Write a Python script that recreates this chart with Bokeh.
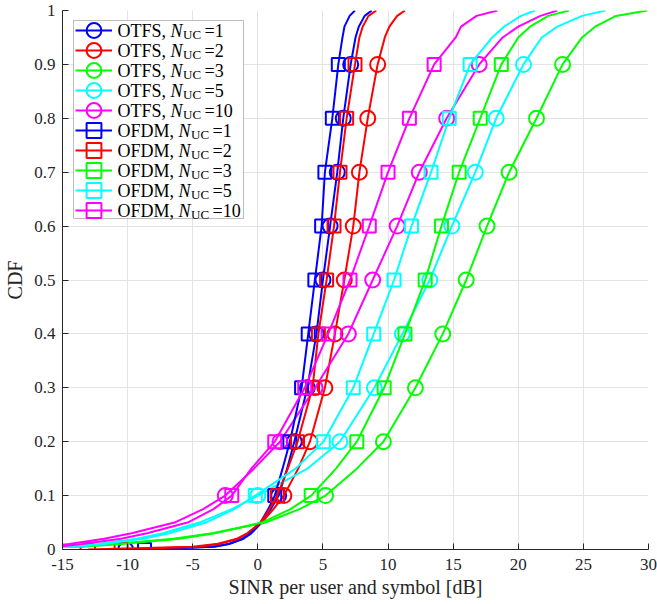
from bokeh.plotting import figure
from bokeh.models import (Legend, LegendItem, Label, FixedTicker, BoxAnnotation,
                          CustomJSTickFormatter, Range1d, ColumnDataSource)
from bokeh.embed import file_html
from bokeh.resources import INLINE

# ---------------- data ----------------
cdf_levels = [0.0, 0.005, 0.01, 0.02, 0.03, 0.05, 0.075, 0.1, 0.15, 0.2,
              0.3, 0.4, 0.5, 0.6, 0.7, 0.8, 0.9, 0.95, 0.97, 0.99, 1.0]
marker_levels = [0.0, 0.1, 0.2, 0.3, 0.4, 0.5, 0.6, 0.7, 0.8, 0.9]

schemes = ["OTFS"] * 5 + ["OFDM"] * 5
n_uc = [1, 2, 3, 5, 10, 1, 2, 3, 5, 10]
colors = ["#0000ff", "#ff0000", "#00ff00", "#00ffff", "#ff00ff"] * 2
markers = ["circle"] * 5 + ["square"] * 5

# SINR [dB] at each CDF level
otfs_1 = [-10.15, -3.3, -2.2, -1.1, -0.5, 0.3, 1.0, 1.6, 2.25, 2.8,
          3.8, 4.5, 5.0, 5.55, 6.1, 6.56, 7.13, 7.5, 7.75, 8.2, 8.75]
otfs_2 = [-13.05, -5.0, -3.2, -1.6, -0.8, 0.3, 1.2, 2.0, 3.1, 4.0,
          5.15, 5.92, 6.64, 7.33, 7.8, 8.44, 9.2, 9.75, 10.1, 10.7, 11.3]
otfs_3 = [-30.0, -14.0, -11.0, -6.5, -3.5, 0.6, 3.2, 5.2, 7.6, 9.64,
          12.1, 14.2, 16.0, 17.6, 19.3, 21.4, 23.4, 24.9, 25.9, 27.5, 29.9]
otfs_5 = [-30.0, -14.5, -12.3, -9.3, -7.3, -4.5, -2.0, 0.0, 3.8, 6.3,
          8.95, 11.1, 13.2, 14.9, 16.7, 18.3, 20.4, 21.8, 23.0, 24.9, 26.7]
otfs_10 = [-30.0, -17.0, -14.5, -11.8, -9.7, -6.4, -4.2, -2.5, -0.3, 1.7,
           4.4, 6.95, 8.82, 10.7, 12.4, 14.5, 17.0, 18.8, 20.0, 21.7, 23.0]
ofdm_1 = [-8.7, -3.5, -2.3, -1.2, -0.6, 0.2, 0.8, 1.3, 1.9, 2.46,
          3.36, 3.87, 4.38, 4.9, 5.15, 5.72, 6.18, 6.5, 6.65, 7.05, 7.46]
ofdm_2 = [-10.5, -4.5, -3.0, -1.5, -0.8, 0.2, 0.9, 1.5, 2.3, 3.05,
          4.2, 4.65, 5.28, 5.85, 6.31, 6.82, 7.46, 7.8, 8.05, 8.5, 9.1]
ofdm_3 = [-30.0, -13.5, -10.5, -6.0, -3.3, 0.3, 2.5, 4.1, 6.0, 7.6,
          9.7, 11.3, 12.85, 14.1, 15.46, 17.08, 18.7, 20.0, 20.9, 22.3, 23.9]
ofdm_5 = [-30.0, -14.0, -11.8, -8.8, -6.8, -4.0, -1.8, -0.2, 2.9, 5.03,
          7.33, 8.9, 10.46, 11.8, 13.3, 14.7, 16.3, 18.0, 18.9, 20.2, 21.3]
ofdm_10 = [-30.0, -15.5, -13.5, -10.5, -8.5, -5.4, -3.4, -2.0, -0.5, 1.3,
           3.6, 5.4, 7.08, 8.56, 10.0, 11.64, 13.54, 15.2, 15.6, 16.8, 18.4]

series_x = [otfs_1, otfs_2, otfs_3, otfs_5, otfs_10,
            ofdm_1, ofdm_2, ofdm_3, ofdm_5, ofdm_10]

x_ticks = [-15, -10, -5, 0, 5, 10, 15, 20, 25, 30]
y_ticks = [0, 0.1, 0.2, 0.3, 0.4, 0.5, 0.6, 0.7, 0.8, 0.9, 1]

x_label = "SINR per user and symbol [dB]"
y_label = "CDF"

# ---------------- figure ----------------
FONT = "Liberation Serif"
AX = "#262626"

p = figure(width=657, height=604, x_range=Range1d(-15, 30), y_range=Range1d(0, 1),
           output_backend="svg", toolbar_location=None,
           min_border_left=62, min_border_right=9, min_border_top=10, min_border_bottom=55)
p.outline_line_color = None
p.background_fill_color = "white"
p.border_fill_color = "white"

for ax in (p.xaxis[0], p.yaxis[0]):
    ax.axis_line_color = AX
    ax.axis_line_width = 1
    ax.major_tick_line_color = AX
    ax.major_tick_in = 6
    ax.major_tick_out = 0
    ax.minor_tick_line_color = None
    ax.major_label_text_font = FONT
    ax.major_label_text_font_size = "17px"
    ax.major_label_text_color = AX
    ax.axis_label_text_font = FONT
    ax.axis_label_text_font_size = "20px"
    ax.axis_label_text_font_style = "normal"
    ax.axis_label_text_color = AX

p.xaxis.ticker = FixedTicker(ticks=x_ticks)
p.yaxis.ticker = FixedTicker(ticks=y_ticks)
p.xaxis.formatter = CustomJSTickFormatter(code="return String(tick);")
p.yaxis.formatter = CustomJSTickFormatter(code="return String(Math.round(tick*10)/10);")
p.xaxis.axis_label = x_label
p.yaxis.axis_label = y_label
p.xaxis.major_label_standoff = 9
p.yaxis.major_label_standoff = 7
p.xaxis.axis_label_standoff = 3
p.yaxis.axis_label_standoff = 5

for g in (p.xgrid[0], p.ygrid[0]):
    g.grid_line_color = "#e3e3e3"
    g.grid_line_width = 1
p.xgrid.ticker = FixedTicker(ticks=x_ticks)
p.ygrid.ticker = FixedTicker(ticks=y_ticks)

# legend box (white background + border), beneath the legend samples and texts
p.add_layout(BoxAnnotation(left=11, right=181, bottom=331, top=529,
                           left_units="screen", right_units="screen",
                           bottom_units="screen", top_units="screen",
                           fill_color="white", fill_alpha=1.0,
                           line_color=AX, line_width=1, level="underlay"))

line_items, even_items, odd_items = [], [], []
for k, (xs, col, mk) in enumerate(zip(series_x, colors, markers)):
    src = ColumnDataSource(dict(x=xs, y=cdf_levels))
    mx = [x for x, lv in zip(xs, cdf_levels) if lv in marker_levels]
    my = [lv for lv in cdf_levels if lv in marker_levels]
    msrc = ColumnDataSource(dict(x=mx, y=my))
    lr = p.line("x", "y", source=src, line_color=col, line_width=2)
    size = 15 if mk == "circle" else 13
    sr = p.scatter("x", "y", source=msrc, marker=mk, size=size, fill_color=None,
                   line_color=col, line_width=2)
    line_items.append(LegendItem(label=" ", renderers=[lr]))
    (even_items if k % 2 == 0 else odd_items).append(LegendItem(label=" ", renderers=[sr]))

leg_common = dict(margin=0, padding=0, spacing=0, glyph_width=37, label_standoff=5,
                  label_text_font_size="2px", border_line_color=None,
                  background_fill_alpha=0.0, inactive_fill_alpha=0.0)
# lines: 20px rows
p.add_layout(Legend(items=line_items, location=(13, 329), glyph_height=20,
                    label_height=20, label_width=120, **leg_common))
# markers: two interleaved legends with 40px rows -> bigger legend markers
p.add_layout(Legend(items=even_items, location=(13, 339), glyph_height=40,
                    label_height=40, label_width=10, **leg_common))
p.add_layout(Legend(items=odd_items, location=(13, 319), glyph_height=40,
                    label_height=40, label_width=10, **leg_common))

# legend texts with N_UC subscript
for i, (sch, n) in enumerate(zip(schemes, n_uc)):
    x0 = 55
    yc = 519 - 20 * i
    w_prefix = 53.0 if sch == "OTFS" else 61.0
    common = dict(x_units="screen", y_units="screen", text_baseline="middle",
                  text_color="black", text_font=FONT, level="overlay")
    p.add_layout(Label(x=x0, y=yc, text=sch + ",", text_font_size="18px", **common))
    p.add_layout(Label(x=x0 + w_prefix, y=yc, text="N", text_font_size="18px",
                       text_font_style="italic", **common))
    p.add_layout(Label(x=x0 + w_prefix + 12.5, y=yc - 4, text="UC",
                       text_font_size="13px", **common))
    p.add_layout(Label(x=x0 + w_prefix + 12.5 + 18.1 + 3.5, y=yc, text="=" + str(n),
                       text_font_size="18px", **common))

open("out.html", "w").write(file_html(p, INLINE))
